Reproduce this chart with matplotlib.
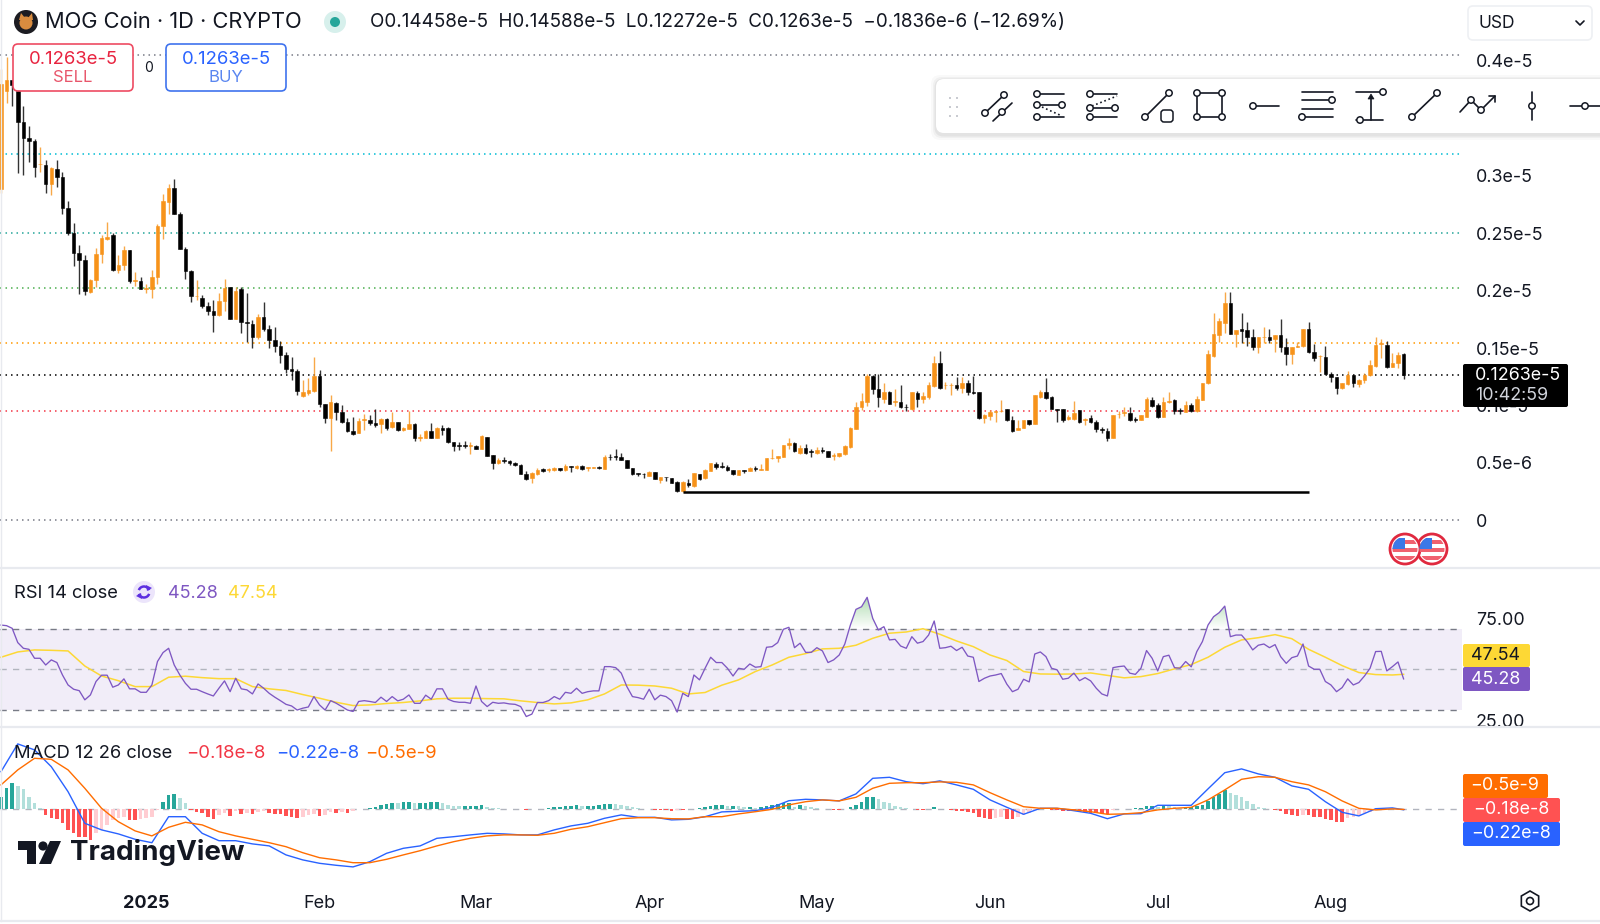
#!/usr/bin/env python3

import numpy as np
import pandas as pd
import matplotlib
matplotlib.use("Agg")
import matplotlib.pyplot as plt
import matplotlib.dates as mdates
from matplotlib.patches import FancyBboxPatch, Circle, Rectangle, Polygon, RegularPolygon, Arc
from matplotlib.path import Path

plt.rcParams['font.family'] = ['Inter', 'DejaVu Sans']

# Prices in units of 1e-8
opens = [288, 374, 383, 374, 347, 333, 330, 310, 309, 293,
         306, 299, 272, 250, 233, 227, 199, 209, 232, 245,
         248, 218, 222, 235, 208, 208, 201, 201, 212, 256,
         277, 289, 267, 236, 217, 195, 194, 187, 182, 179,
         191, 203, 175, 201, 173, 171, 160, 177, 167, 157,
         152, 144, 132, 130, 108, 111, 113, 126, 101, 89.5,
         102.5, 94.5, 86, 78, 76, 87, 87.5, 84.5, 84, 88,
         81, 85.7, 78.7, 79.6, 84, 72, 72, 78, 72, 80,
         80, 68, 65.6, 65.6, 64.5, 65, 62.5, 73, 57, 49.7,
         53, 51.4, 50.3, 48.3, 40.4, 36.6, 40.4, 44.5, 44, 44,
         45.6, 44, 47.4, 45.6, 47.7, 46, 46, 46.8, 44.8, 55.5,
         56, 55, 52.6, 46, 41, 40.5, 39, 42, 35, 38,
         36.5, 33.7, 25.5, 32.8, 30, 40, 36.7, 43, 49.4, 47,
         46.8, 44, 39.5, 44, 43, 45.5, 44, 44, 54, 54.5,
         55.5, 65.7, 67.7, 58.4, 62.7, 60, 59, 61, 60.7, 56,
         56, 58, 64, 79.6, 98.4, 103, 125.7, 114, 106, 112,
         102.7, 102.7, 99, 97, 111, 106, 107, 117, 136.7, 117.5,
         117.5, 117.8, 115, 120, 112, 111.8, 89, 91, 94, 95,
         97, 87, 78.7, 80, 87.4, 84, 107.7, 111.5, 107.7, 97.3,
         96.7, 88, 88.3, 96, 87.5, 89, 86, 79.3, 78, 72,
         92.4, 93.5, 93.7, 88, 87, 90.3, 104.8, 100.5, 89.7, 102.7,
         104.8, 95.8, 94, 100.5, 95.2, 105, 119.3, 143, 161.3, 172,
         189.5, 162.2, 166.3, 165.7, 159.9, 151.2, 159.5, 159.9, 157.6, 161,
         150.6, 144.8, 151, 151.8, 166.9, 146.3, 143, 142.5, 127.4, 124.5,
         115, 118.4, 126.6, 118.7, 122.2, 126.6, 134.4, 153.5, 152.6, 133.8,
         137.3, 144.6]
highs = [393, 403, 383, 385, 361, 343, 332, 325, 314, 308,
         314, 303, 278, 259, 240, 231, 210, 237, 248, 260,
         250, 231, 239, 235, 216, 212, 206, 218, 258, 284,
         293, 297, 268, 238, 218, 209, 196, 190, 192, 198,
         210, 203, 203, 203, 198, 174, 180, 190, 170, 168,
         156, 147, 142, 132, 122, 124, 142, 131, 101, 109,
         103, 100.5, 89.5, 90, 89, 92.6, 91.5, 96.7, 89, 89,
         94.6, 86, 81, 95.5, 85, 75, 79, 84.5, 81.6, 83,
         81, 68, 68.5, 69.4, 68, 65.6, 74.4, 73, 57, 54,
         55, 53, 50.6, 48.8, 43.3, 42, 45.4, 45.6, 46, 46.8,
         46, 49, 47.4, 48.3, 48, 46.8, 46.8, 47, 57, 57.5,
         62, 58.4, 52.6, 46, 41, 41, 43.3, 42.4, 38, 38,
         37, 34, 34, 35.8, 41.5, 40, 45, 50, 51, 51,
         48.3, 44, 44, 44, 46.5, 47.4, 49, 54.5, 62, 56,
         66, 72, 68, 65.6, 66.5, 62, 64, 64, 60.7, 59,
         59, 65.5, 81, 103, 111, 127.4, 126.5, 127, 120, 112.6,
         114, 117.8, 101, 112, 112.6, 112, 120.7, 143, 147.4, 120.7,
         120, 125, 124.5, 122, 126, 112, 93, 96, 95, 105,
         97, 91, 87, 87.4, 87.4, 109.5, 113.5, 123.6, 108, 97.3,
         97.3, 92, 104, 96, 89, 91.8, 87, 81.6, 80, 92,
         95.5, 98.4, 99, 89.7, 92, 107, 107.7, 102, 107.7, 112,
         105.4, 97.5, 104, 102, 108, 120, 148, 180.8, 175.8, 198.8,
         198.8, 165.7, 180.8, 173, 167, 159.9, 168, 167, 161.4, 175,
         158.4, 150.6, 155.6, 167, 172.4, 153.5, 144, 151.8, 129.4, 124.5,
         120, 130, 126.6, 122.8, 128, 140, 159.9, 157.9, 156, 145.4,
         146.8, 145.9]
lows = [285, 363, 361, 302, 301, 312, 299, 303, 285, 283,
        290, 267, 248, 221, 197, 196, 198, 203, 224, 244,
        217, 215, 218, 207, 204, 201, 198, 194, 206, 245,
        267, 267, 236, 210, 190, 192, 185, 179, 164, 178,
        182, 175, 175, 163, 155, 150, 158, 165, 150, 147,
        137, 128, 122, 109, 107, 109, 112, 99, 84.5, 60,
        87, 85, 77, 74, 76, 79, 83, 81.6, 76.4, 79,
        80.7, 78, 78, 79.6, 69.4, 69.4, 71.5, 71.5, 72, 74,
        67, 60, 61, 62.7, 57.8, 62, 62, 56, 45, 49,
        50.3, 48.3, 47.4, 40, 35, 33, 39.5, 41.9, 42, 42.7,
        43, 43, 42.5, 44.8, 44, 43, 46, 45, 44.5, 52.6,
        52.6, 52.6, 45.4, 39.5, 39, 37, 38.7, 36, 33, 34.6,
        33, 25, 25, 29.4, 29, 35, 36, 43, 45, 46,
        43, 39.8, 39.5, 41.6, 43, 43.3, 44, 44, 53.5, 51,
        55, 62, 59.6, 58, 58, 55, 58, 59, 55, 52.6,
        55, 57, 63, 79.6, 96, 100, 110, 99, 102, 101,
        99.6, 97.5, 95, 96, 99, 102, 106, 116, 114, 114,
        109, 113.5, 110.5, 109, 110, 88.7, 85, 87.4, 85.6, 94.5,
        86.8, 76.7, 78.7, 80, 83, 83.5, 106.5, 105.4, 97, 85.4,
        85.4, 87.4, 87.4, 85, 83, 84.5, 77, 76, 69, 72,
        89, 91, 86.8, 86, 87, 90, 98.4, 89.4, 89.7, 102,
        92.6, 93, 94, 94.6, 94.6, 105, 119, 142, 155.5, 163.4,
        162.2, 151.2, 154.7, 151.8, 148.3, 145.4, 154, 154, 146.8, 146.8,
        135, 135.8, 150.6, 151, 146, 139, 129.4, 127.4, 120.7, 110,
        114, 117.8, 115.8, 115.8, 119.3, 125.7, 133.2, 141.6, 132.4, 133.2,
        133, 122.7]
closes = [380, 383, 379, 347, 333, 330, 308, 310.5, 293, 307,
          299, 272, 250, 233, 227, 200, 209, 232, 246, 247,
          218, 222, 235, 208, 209, 201, 202, 212, 256, 278,
          289, 267, 236, 217, 195, 195.5, 187, 182, 179, 191,
          202, 175, 200, 173, 172, 160, 177, 167, 157, 152,
          144, 132, 130, 113, 112, 113.5, 126, 101, 89.5, 103,
          94, 86, 78, 75, 86.5, 88, 84.5, 83, 88, 80.7,
          85.4, 78.7, 80, 83.6, 72, 73, 78, 72, 80, 79,
          68, 65, 65, 65, 65.4, 62.5, 73.5, 56.5, 50.3, 53,
          51.4, 49.7, 48.3, 40.4, 36, 41, 44, 43, 45, 46,
          44, 47.4, 46.5, 47.7, 44.5, 46.8, 46.8, 45.6, 55.5, 55,
          55, 52.6, 46, 40, 40, 40, 42, 36, 38, 37.5,
          33, 26, 33.7, 30.9, 41, 36, 44, 49.7, 46.8, 46.8,
          44, 40, 44, 43, 46, 45, 45, 54, 54.5, 56,
          66, 67, 60, 62.7, 58.7, 59.5, 61, 60.5, 55, 57,
          58.4, 65, 80.4, 98.4, 104, 126, 114, 107, 112, 101.6,
          104, 98.4, 98.4, 111.5, 106, 108, 118, 136.7, 115, 118,
          118, 115, 119.3, 112, 110.6, 89, 91.7, 94.4, 95, 95.5,
          87, 78.1, 80.7, 87.4, 84, 108.9, 111.5, 106.2, 97.3, 96,
          87.4, 90.3, 93.2, 85.4, 88, 86, 79.3, 78.7, 72, 92,
          93, 94, 87.4, 87.5, 91.7, 105.4, 99.6, 89.7, 102.8, 104,
          95.5, 95.5, 100.5, 95.2, 105.7, 119.9, 144.8, 162, 173.5, 189.5,
          162.2, 165.7, 165, 159.9, 150.6, 159.3, 160, 157, 161.4, 150.6,
          144.8, 150.6, 151.8, 166.9, 146.3, 141, 143.5, 127.4, 124.5, 115.5,
          119.3, 126.6, 119.3, 122.2, 126.6, 135.3, 152.6, 154, 133.2, 137.3,
          144, 126.3]

# Horizontal levels drawn on the price pane
level_values = [405, 318.6, 250, 202, 154.7, 126.3, 95.5, 0]
level_colors = ['#787b86', '#00bcd4', '#26a69a', '#4caf50', '#ff9800', '#000000', '#f23645', '#787b86']
price_ticks = [0, 50, 100, 150, 200, 250, 300, 400]
price_labels = ['0', '0.5e-6', '0.1e-5', '0.15e-5', '0.2e-5', '0.25e-5', '0.3e-5', '0.4e-5']
support_level = 24.8
support_start = 122
support_end = 234

rsi = [71.7, 71.4, 70.1, 63.1, 60.3, 59.8, 55.4, 55.4, 52.1, 54.6,
       53.3, 47.2, 42.3, 40.2, 39.5, 35, 37.4, 44, 47.1, 47.1,
       41.2, 42.3, 45.3, 40.4, 40.4, 38.7, 38.7, 42.3, 53.8, 58.2,
       60.3, 52.1, 47.2, 43.1, 40.2, 40.2, 39, 37.9, 36.9, 40.7,
       44.3, 39, 45.6, 40.4, 39.9, 37.9, 42.8, 40.7, 38.2, 36.3,
       34.6, 32.8, 32, 30, 30.9, 31.5, 36.6, 32.5, 30, 34.6,
       33.3, 31.7, 30, 29.3, 34.2, 34.6, 34.2, 33.7, 36.3, 34.2,
       36.6, 34.5, 35.3, 37.4, 33.3, 33.3, 37.3, 35.3, 40.4, 40.4,
       35.3, 34.2, 33.8, 33.8, 33.3, 41.8, 34.2, 31.7, 33.8, 33.3,
       33.5, 33, 32.8, 31.7, 26.8, 28, 33.7, 33.7, 34.6, 36.6,
       35.3, 38.7, 38.2, 40.7, 38.2, 39, 39.4, 39.4, 51.3, 51.3,
       50.8, 48.1, 41.5, 36.6, 36.1, 35.3, 40.2, 35, 37.3, 36.6,
       34.6, 29, 38.2, 36.6, 47.2, 44.8, 50.5, 55.9, 53.3,
       53.3, 50.5, 46.7, 50.5, 50, 52.6, 51, 51.3, 60.8, 61.1,
       63.1, 69.6, 70.6, 60.6, 62.8, 58.3, 58.3, 60.6, 59, 53.3,
       54.6, 57, 62.4, 71.7, 79.4, 80.7, 85.3, 75, 69.3, 70.9,
       64.4, 64.7, 61.4, 60.3, 66, 62.8, 63.6, 66.8, 73.7, 60.3,
       60.6, 61.3, 59.2, 60.8, 56.5, 55.9, 44, 45.6, 46.7, 47.2,
       47.9, 42.7, 39, 40.2, 45.1, 43.8, 57.5, 58.5, 56.2, 50.5,
       49.7, 45.1, 45.6, 48.1, 44.4, 45.9, 44.3, 40.7, 37.9, 36.9,
       50.8, 51.3, 51.6, 48.1, 47.5, 50.5, 59.2, 55.4, 49.2, 56.2,
       56.9, 50.8, 50.5, 53.8, 51.2, 58.7, 63.6, 71.7, 75.8, 77.8,
       81, 66, 66.8, 66.8, 63.6, 59.5, 61.8, 62.4, 60.6, 62.1,
       56.2, 52.9, 55.7, 56.5, 62.4, 51.6, 50, 50, 44, 42.3,
       39, 41, 45.3, 42.3, 43.5, 46.7, 50.5, 58.7, 58.8, 49.2,
       51.3, 53.6, 45.28]
# Moving averages and MACD lines read every third session plus the last one
sampled_days = list(range(0, 250, 3)) + [251]
rsi_ma = [55.9, 58.5, 59.5, 59.3, 59, 51.6, 46.7, 44.4, 41.5, 41.5,
          46.1, 46.6, 45.9, 45.4, 45.4, 41.5, 40.4, 39.6, 37.6, 35.8,
          33.8, 32.2, 32.5, 33.2, 33.7, 34.5, 35.5, 35.8, 35.8, 35.6,
          35.5, 34.5, 33.7, 33, 33.5, 35, 37.9, 42.3, 42.2, 41.8,
          40.7, 37.9, 38.6, 42.2, 44.8, 48.9, 52.1, 55.9, 57.7, 60,
          60.3, 61.8, 65.2, 67.7, 68.3, 69.9, 67.2, 63.9, 61.1, 57,
          54.3, 48.9, 47.7, 47.6, 47.7, 48.2, 47, 45.8, 46.4, 47.9,
          50.2, 52.3, 55.9, 60.8, 64.4, 65.5, 67, 65, 59.8, 55.9,
          51.8, 48.4, 47.4, 47.2, 47.54]

# MACD pane in units of 1e-8
macd = [18.8, 32.7, 29.7, 21.3, 8.8, -7, -10.3, -12.3, -15, -16.7,
        -3.7, -3.7, -12, -15.7, -15.7, -17.3, -18.3, -22.8, -25.3, -27,
        -28, -28.8, -26.2, -22, -19.5, -18.3, -14.5, -13.7, -12.8, -12,
        -12.3, -12.8, -12.8, -10.3, -8.3, -7, -4.5, -2.8, -4, -4,
        -5.3, -5, -3.7, -1.3, -1, -0.7, 1, 4.3, 5, 4.7,
        4.2, 7.7, 15.5, 16, 13.8, 12.8, 14.2, 12.2, 10, 4.7,
        1, -2.5, 0.5, 0.5, -0.7, -2, -4.7, -2.3, -2.2, 2,
        2, 2, 10.2, 18.3, 20.2, 17.7, 16, 11.7, 10, 3.8,
        -1.5, -3.3, 0.3, 0.7, -0.22]
signal = [12.2, 19.7, 25.5, 25, 19.7, 10.5, 0.5, -6.2, -10.8, -13.3,
          -9, -6.5, -7.8, -11.2, -13.3, -15, -16.7, -18.7, -21.7, -24.2,
          -25.3, -26.7, -26.7, -25, -22.8, -20.7, -18.3, -16.2, -14.5, -13.3,
          -12.8, -12.8, -13, -12, -10, -8.7, -6.7, -4.7, -4.2, -4.2,
          -4.7, -4.8, -3.7, -3.7, -2.3, -1.2, 0, 2.2, 3.8, 4.7,
          4.2, 6, 10.5, 13, 13.3, 13.3, 13.7, 13.5, 12.2, 8.3,
          4.7, 1.3, 0.5, 0.5, -0.3, -1.2, -2.5, -2.3, -1.7, -0.3,
          0.5, 1, 4.7, 9.7, 15, 16.3, 16, 13.8, 12.2, 8.8,
          4.2, 0.5, -0.3, 0.2, -0.05]
hist = [6.3, 10.8, 13, 11.8, 10, 6.3, 3, 0.8, -2.8, -4.5,
        -5, -7, -10.3, -11.7, -13.7, -14, -15.3, -12, -10.3, -7.8,
        -5.3, -4.5, -3.7, -5.3, -5.3, -5, -4.5, -3.7, -0.5, 3.8,
        7.2, 7.7, 5.5, 3, -0.5, -1.2, -2, -3.7, -5, -2.8,
        -2, -3.3, -0.7, -2.3, -2, -2.3, -1.2, -0.7, -1.7, -2.3,
        -2.5, -3.3, -3.7, -4.5, -3.7, -2.8, -2.3, -3.3, -2.8, -1.2,
        -1.7, -1.3, -1.7, -0.7, 0, 0.2, 0.5, 1.3, 2.2, 2.7,
        3.3, 3, 3.5, 3.7, 3, 3, 3, 3.5, 3.5, 3.3,
        2.2, 1.8, 1.7, 1.7, 1.7, 1.7, 2.2, 1.3, 0.7, 0.5,
        0.3, 0.3, 0.2, 0.2, -0.3, 0.2, 0.3, 0.3, 0.5, 1,
        1.3, 1.7, 1.8, 2, 1.7, 1.7, 1.8, 2.2, 2.7, 2.8,
        2.7, 2.3, 1.7, 1, 0.5, 0.3, 0.2, -0.3, -0.3, -0.5,
        -0.7, -0.3, -0.3, 0.2, 0.3, 0.7, 1, 1.7, 2, 2.2,
        1.7, 1.7, 1.5, 1, 1.3, 0.8, 1, 1.7, 2, 2.5,
        3, 3.3, 1.3, 2, 1.5, 1, 0.7, 0.2, 0.2, -0.2,
        -0.3, 0, 1, 2.2, 3.8, 6, 6.3, 5.3, 3.8, 3,
        1.7, 1, 0.5, 0.2, -0.3, -0.3, 0.2, 1, 0.3, 0.2,
        -0.3, -0.7, -1, -1.3, -2, -3.7, -4.5, -4.7, -4.5, -4,
        -4.7, -4.8, -3.7, -2.8, -1.7, -0.3, 0.5, 0.2, -0.3, -0.3,
        -0.7, -1, -1, -1.3, -1.5, -1.7, -2, -2, -2.5, -0.3,
        0.2, 0.3, 0.3, 0.5, 0.7, 1.7, 1.8, 1, 2, 1.7,
        1, 0.8, 0.8, 1.3, 1.7, 2.2, 4.2, 6.3, 7.7, 9.7,
        8.3, 7.2, 6.3, 4.3, 2.7, 1.3, 0.7, 0, -0.3, -1,
        -2.3, -2.8, -3.2, -2.9, -3, -3.7, -4, -4.7, -5.3, -6.2,
        -6.2, -4.5, -3.7, -2.8, -2, -1.2, -0.3, 0, 0.2, 0,
        0, -0.18]

month_ticks = ['2025-01-01', '2025-02-01', '2025-03-01', '2025-04-01',
               '2025-05-01', '2025-06-01', '2025-07-01', '2025-08-01']
month_labels = ['2025', 'Feb', 'Mar', 'Apr', 'May', 'Jun', 'Jul', 'Aug']

FIG_W, FIG_H = 1600, 924
PANE_W = 1462
TEXT = '#131722'
UP = '#f7931a'
DOWN = '#000000'
GRID = '#e8eaef'


def pane(top, bottom):
    """Axes covering a horizontal band given in image pixels."""
    ax = fig.add_axes([0, 1 - bottom / FIG_H, PANE_W / FIG_W, (bottom - top) / FIG_H])
    for side in ax.spines.values():
        side.set_visible(False)
    ax.yaxis.tick_right()
    ax.tick_params(axis='y', length=0, pad=10, labelsize=12.9, labelcolor=TEXT)
    ax.tick_params(axis='x', length=0)
    ax.patch.set_alpha(0)
    return ax


fig = plt.figure(figsize=(FIG_W / 100, FIG_H / 100), dpi=100)
days = mdates.date2num(pd.date_range('2024-12-06', periods=len(closes)))
px_per_day = 5.588
x_limits = (days[0] - 1 / px_per_day, days[0] + (PANE_W - 1) / px_per_day)

# Price pane
ax_price = pane(0, 568)
o, h, l, c = map(np.array, (opens, highs, lows, closes))
is_up = c >= o
candle_colors = np.where(is_up, UP, DOWN)
for value, color in zip(level_values, level_colors):
    ax_price.axhline(value, color=color, lw=1.1, ls=(0, (1, 2.6)), zorder=1)
ax_price.vlines(days, l, h, colors=candle_colors, lw=1.0, alpha=0.8, zorder=2)
ax_price.bar(days, np.abs(c - o), bottom=np.minimum(o, c), width=0.64,
             color=candle_colors, edgecolor=candle_colors, lw=0.4, zorder=3)
ax_price.hlines(support_level, days[support_start], days[support_end], color='black', lw=1.8, zorder=4)
ax_price.set_xlim(x_limits)
ax_price.set_ylim(-41.4, 452.9)
ax_price.set_yticks(price_ticks, price_labels)
ax_price.set_xticks([])

# RSI pane
ax_rsi = pane(568, 730)
rsi_arr = np.array(rsi)
ax_rsi.axhspan(30, 70, color='#7e57c2', alpha=0.1, lw=0)
for level, shade in ((70, '#787b86'), (50, '#b2b5be'), (30, '#787b86')):
    ax_rsi.axhline(level, color=shade, lw=1.0, ls=(0, (4.5, 4.5)))
over = ax_rsi.fill_between(days, 70, rsi_arr, where=rsi_arr > 70, interpolate=True, color='none')
green = np.zeros((64, 1, 4))
green[:, 0, :3] = (0.30, 0.69, 0.31)
green[:, 0, 3] = np.linspace(0.5, 0, 64)
overlay_img = ax_rsi.imshow(green, extent=(days[0], days[-1], 70, 88), aspect='auto', origin='upper', zorder=1)
overlay_img.set_clip_path(Path.make_compound_path(*over.get_paths()), transform=ax_rsi.transData)
ax_rsi.plot(days[np.array(sampled_days)], rsi_ma, color='#fdd835', lw=1.1, zorder=3)
ax_rsi.plot(days, rsi_arr, color='#7e57c2', lw=0.95, zorder=4)
ax_rsi.set_xlim(x_limits)
ax_rsi.set_ylim(20.2, 99.7)
ax_rsi.set_yticks([25, 75], ['25.00', '75.00'])
ax_rsi.set_xticks([])

# MACD pane
ax_macd = pane(730, 880)
ax_macd.axhline(0, color='#b2b5be', lw=1.0, ls=(0, (4.5, 4.5)), zorder=1)
hist_arr = np.array(hist)
prev = np.r_[hist_arr[0], hist_arr[:-1]]
bar_colors = np.where(hist_arr >= 0,
                      np.where(hist_arr >= prev, '#26a69a', '#b2dfdb'),
                      np.where(hist_arr <= prev, '#ff5252', '#ffcdd2'))
ax_macd.bar(days, hist_arr, width=0.64, color=bar_colors, lw=0, zorder=2)
ax_macd.plot(days[np.array(sampled_days)], macd, color='#2962ff', lw=1.0, zorder=3)
ax_macd.plot(days[np.array(sampled_days)], signal, color='#ff6d00', lw=1.0, zorder=4)
ax_macd.set_xlim(x_limits)
ax_macd.set_ylim(-35.35, 39.65)
ax_macd.set_yticks([])
ax_macd.set_xticks(mdates.date2num(pd.to_datetime(month_ticks)), month_labels)
ax_macd.tick_params(axis='x', pad=11, labelsize=13, labelcolor=TEXT)
ax_macd.get_xticklabels()[0].set_fontweight('bold')

# Everything that is interface rather than data sits in an overlay in pixel coordinates
ui = fig.add_axes([0, 0, 1, 1], zorder=10)
ui.set_xlim(0, FIG_W)
ui.set_ylim(FIG_H, 0)
ui.axis('off')


def label(x, y, s, color=TEXT, size=13, ha='left', **kw):
    ui.text(x, y + 1, s, color=color, fontsize=size, ha=ha, va='center', **kw)


def box(x0, y0, x1, y1, face='white', edge='none', lw=1.0, r=3, **kw):
    p = FancyBboxPatch((x0 + r, y0 + r), x1 - x0 - 2 * r, y1 - y0 - 2 * r,
                       boxstyle='round,pad=%g,rounding_size=%g' % (r, r),
                       fc=face, ec=edge, lw=lw, **kw)
    ui.add_patch(p)
    return p


def seg(*pts, **kw):
    xs, ys = zip(*pts)
    ui.plot(xs, ys, color=kw.get('color', TEXT), lw=kw.get('lw', 1.2), ls=kw.get('ls', '-'),
            solid_capstyle='round', zorder=kw.get('zorder', 5))


def knob(x, y):
    ui.add_patch(Circle((x, y), 3.2, fc='white', ec=TEXT, lw=1.1, zorder=6))


# Separators
for y, thick in ((568, 1.6), (727, 1.6), (921, 1.6)):
    ui.plot([0, FIG_W], [y, y], color=GRID, lw=thick)
ui.plot([0.5, 0.5], [0, 921], color=GRID, lw=1.0)

# Header
ui.add_patch(Circle((26, 22), 12, fc='#1c1c22', ec='none'))
ui.add_patch(Circle((26, 23), 6.5, fc='#d98c3f', ec='none'))
ui.add_patch(Polygon([(19, 20), (21, 13), (25, 18), (28, 18), (32, 13), (33, 20)], fc='#d98c3f'))
label(45, 21, 'MOG Coin · 1D · CRYPTO', size=15.75)
ui.add_patch(Circle((335, 22), 11, fc='#d7f0ec', ec='none'))
ui.add_patch(Circle((335, 22), 5, fc='#26a69a', ec='none'))
label(370, 21, 'O0.14458e-5  H0.14588e-5  L0.12272e-5  C0.1263e-5  −0.1836e-6 (−12.69%)', size=13.55)
box(1468, 6, 1592, 40, edge='#eef0f3', lw=1.2, r=5)
label(1479, 22, 'USD', size=12.5)
seg((1576, 21), (1580, 25), (1584, 21), lw=1.2)

# Sell and buy buttons
box(13, 44, 133, 91, edge='#ee4b62', lw=1.2, r=5)
label(73, 58, '0.1263e-5', color='#e8233f', size=13.3, ha='center')
label(73, 77, 'SELL', color='#e8566b', size=12, ha='center')
label(149, 67, '0', size=10, ha='center')
box(166, 44, 286, 91, edge='#3f73ee', lw=1.2, r=5)
label(226, 58, '0.1263e-5', color='#2962ff', size=13.3, ha='center')
label(226, 77, 'BUY', color='#5a86f0', size=12, ha='center')

# Drawing toolbar with a soft shadow
for grow, alpha in ((5, 0.025), (3, 0.035), (1.5, 0.05)):
    box(936 - grow, 80 - grow, 1640, 135 + grow, face='#000000', alpha=alpha, r=9)
box(936, 79, 1640, 133, face='white', r=8)
for gx in (949, 956):
    for gy in (97, 106, 115):
        ui.add_patch(Rectangle((gx, gy), 2.4, 2.4, fc='#c9cbd1', ec='none', zorder=5))
seg((985, 113), (1004, 95))
knob(985, 113)
knob(1004, 95)
seg((993, 121), (1012, 103))
knob(1002, 112)
for ly in (94, 105, 117):
    seg((1036, ly), (1064, ly))
    knob(1037, ly)
knob(1062, 105)
seg((1042, 107), (1062, 116), ls=':')
for ly in (94, 108, 117):
    seg((1090, ly), (1117, ly))
    knob(1090, ly)
knob(1115, 108)
seg((1092, 106), (1117, 96), ls=':')
seg((1145, 117), (1169, 93))
knob(1145, 117)
knob(1169, 93)
box(1161, 110, 1173, 122, face='white', edge=TEXT, lw=1.1, r=3, zorder=5)
seg((1197, 93), (1222, 93), (1222, 117), (1197, 117), (1197, 93))
for corner in ((1197, 93), (1222, 93), (1197, 117), (1222, 117)):
    knob(*corner)
seg((1253, 106), (1279, 106))
knob(1253, 106)
for ly in (92, 100, 109, 117):
    seg((1302, ly), (1333, ly))
knob(1332, 100)
knob(1302, 117)
seg((1356, 92), (1383, 92))
seg((1356, 120), (1383, 120))
knob(1383, 92)
knob(1360, 120)
seg((1371, 120), (1371, 97))
ui.add_patch(Polygon([(1368, 99), (1371, 94), (1374, 99)], fc=TEXT, ec=TEXT, lw=0.5, zorder=5))
seg((1412, 117), (1437, 93))
knob(1412, 117)
knob(1437, 93)
seg((1460, 112), (1471, 100), (1481, 110), (1495, 96))
seg((1489, 96), (1495, 96), (1495, 102))
knob(1471, 100)
knob(1481, 110)
seg((1532, 92), (1532, 120))
knob(1532, 106)
seg((1570, 106), (1600, 106))
knob(1585, 106)

# Last price flag
box(1463, 364, 1568, 407, face='#000000', r=2)
label(1475, 375, '0.1263e-5', color='white', size=12.9)
label(1475, 395, '10:42:59', color='#d1d4dc', size=12.9)

# Economic event flags
for cx in (1432, 1405):
    disc = Circle((cx, 549), 15, fc='white', ec='#e0293f', lw=2, zorder=5)
    ui.add_patch(disc)
    stripes = [Rectangle((cx - 13, 549 + dy), 26, 4, fc='#f0616f', ec='none', zorder=6) for dy in (-9, -1, 7)]
    canton = Rectangle((cx - 13, 538), 13, 11, fc='#3b78e7', ec='none', zorder=7)
    for patch in stripes + [canton]:
        ui.add_patch(patch)
        patch.set_clip_path(Circle((cx, 549), 12.5, transform=ui.transData))

# RSI legend, its refresh badge and value boxes
label(14, 592, 'RSI 14 close', size=13.2)
ui.add_patch(Circle((144, 592), 11, fc='#ece5fb', ec='none'))
ui.add_patch(Arc((144, 592), 11, 11, theta1=200, theta2=340, ec='#5d2fe0', lw=1.8))
ui.add_patch(Arc((144, 592), 11, 11, theta1=20, theta2=160, ec='#5d2fe0', lw=1.8))
ui.add_patch(Polygon([(146, 585), (152, 588), (147, 591)], fc='#5d2fe0', ec='none'))
ui.add_patch(Polygon([(142, 599), (136, 596), (141, 593)], fc='#5d2fe0', ec='none'))
label(168, 592, '45.28', color='#7e57c2', size=13)
label(228, 592, '47.54', color='#fdd835', size=13)
box(1463, 644, 1530, 667, face='#fdd835', r=2)
label(1496, 654, '47.54', size=12.9, ha='center')
box(1463, 667, 1530, 691, face='#7e57c2', r=2)
label(1496, 678, '45.28', color='white', size=12.9, ha='center')

# MACD legend and value boxes
label(14, 752, 'MACD 12 26 close', size=13.2)
label(186, 752, '−0.18e-8', color='#f23645', size=13.4)
label(276, 752, '−0.22e-8', color='#2962ff', size=13.4)
label(365, 752, '−0.5e-9', color='#ff6d00', size=13.4)
box(1463, 774, 1548, 798, face='#ff6d00', r=2)
label(1505, 785, '−0.5e-9', color='white', size=12.9, ha='center')
box(1463, 798, 1560, 822, face='#ff5252', r=2)
label(1511, 809, '−0.18e-8', color='white', size=12.9, ha='center')
box(1463, 822, 1560, 846, face='#2962ff', r=2)
label(1511, 833, '−0.22e-8', color='white', size=12.9, ha='center')

# TradingView watermark
ui.add_patch(Polygon([(18, 841), (36, 841), (36, 864), (27, 864), (27, 850), (18, 850)], fc='#131722', ec='none'))
ui.add_patch(Circle((43, 846), 4.6, fc='#131722', ec='none'))
ui.add_patch(Polygon([(50, 841), (61, 841), (51, 864), (39, 864)], fc='#131722', ec='none'))
label(70, 851, 'TradingView', size=20, fontweight='bold')

# Settings icon
ui.add_patch(RegularPolygon((1530, 901), 6, radius=10, fc='white', ec=TEXT, lw=1.2))
ui.add_patch(Circle((1530, 901), 3.5, fc='white', ec=TEXT, lw=1.2))

fig.savefig('out.png', dpi=100)
